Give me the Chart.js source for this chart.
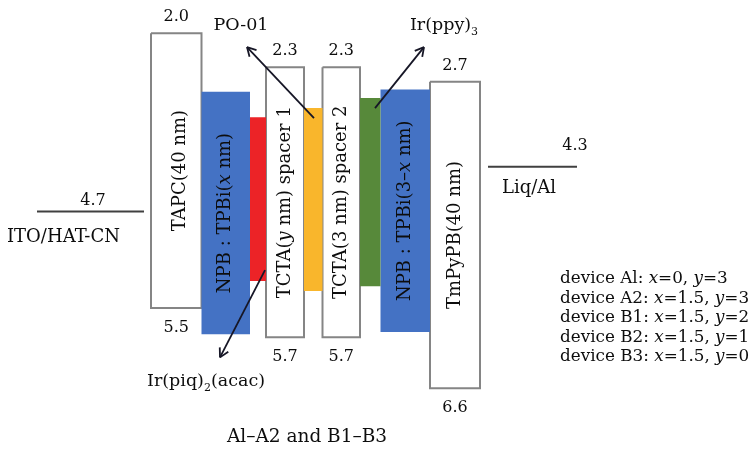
<!DOCTYPE html>
<html>
<head>
<meta charset="utf-8">
<script src="https://cdn.jsdelivr.net/npm/chart.js@4.4.1/dist/chart.umd.min.js"></script>
<style>
  html, body { margin: 0; padding: 0; background: #fff; }
  #wrap { width: 753px; height: 450px; position: relative; }
</style>
</head>
<body>
<div id="wrap"><canvas id="chart"></canvas></div>
<script>
// Layer stack, left to right
const layers = ['TAPC', 'NPB:TPBi(x)', 'Ir(piq)2(acac)', 'TCTA spacer 1', 'PO-01', 'TCTA spacer 2', 'Ir(ppy)3', 'NPB:TPBi(3-x)', 'TmPyPB'];
const layerEdges = [151, 201.5, 250, 266, 304, 322.5, 360, 380.5, 430, 480];
// levels as drawn (eV; the original sketch is not to scale)
const lumo = [2.00, 2.76, 3.09, 2.44, 2.97, 2.44, 2.84, 2.73, 2.63];
const homo = [5.56, 5.90, 5.21, 5.94, 5.34, 5.94, 5.28, 5.87, 6.60];
const lumoText = ['2.0', '', '', '2.3', '', '2.3', '', '', '2.7'];
const homoText = ['5.5', '', '', '5.7', '', '5.7', '', '', '6.6'];
const layerColors = ['#ffffff', '#4472c4', '#ec2327', '#ffffff', '#f9b62c', '#ffffff', '#57893a', '#4472c4', '#ffffff'];

// electrodes
const electrodes = ['ITO/HAT-CN', 'Liq/Al'];
const electrodeSpans = [[37, 144], [488, 577]];
const workFunction = [4.31, 3.73];
const workFunctionText = ['4.7', '4.3'];

// dopant arrows [stack position, level]
const dopants = ['PO-01', 'Ir(ppy)3', 'Ir(piq)2(acac)'];
const arrowTail = [[314, 3.10], [375, 2.97], [265, 5.07]];
const arrowHead = [[247, 2.18], [424, 2.18], [220, 6.20]];

// device table
const devices = ['Al', 'A2', 'B1', 'B2', 'B3'];
const xValues = ['0', '1.5', '1.5', '1.5', '1.5'];
const yValues = ['3', '3', '2', '1', '0'];

const FONT = '"DejaVu Serif", serif';
const INK = '#0d0d0d';

// rich text parts: [text, style] style '' | 'i' italic | 's' subscript
const layerText = [
  [['TAPC(40 nm)', '']],
  [['NPB : TPBi(', ''], ['x', 'i'], [' nm)', '']],
  null,
  [['TCTA(', ''], ['y', 'i'], [' nm) spacer 1', '']],
  null,
  [['TCTA(3 nm) spacer 2', '']],
  null,
  [['NPB : TPBi(3\u2013', ''], ['x', 'i'], [' nm)', '']],
  [['TmPyPB(40 nm)', '']]
];
const layerTextDx = [4, 0, 0, 0, 0, 0, 0, 0, 0];
const dopantText = [
  [['PO-01', '']],
  [['Ir(ppy)', ''], ['3', 's']],
  [['Ir(piq)', ''], ['2', 's'], ['(acac)', '']]
];
const dopantTextOffset = [[-6, -17], [20, -17], [-14, 29]];
const electrodeNumOffset = [[-51, -6], [-2, -17]];
const electrodeNameOffset = [[-30, 31], [14, 26]];

function setFont(ctx, style, size) {
  if (style === 'i') ctx.font = 'italic ' + size + 'px ' + FONT;
  else if (style === 's') ctx.font = Math.round(size * 0.62) + 'px ' + FONT;
  else ctx.font = size + 'px ' + FONT;
}

function drawRich(ctx, parts, x, y, size, align) {
  let total = 0;
  parts.forEach(p => { setFont(ctx, p[1], size); total += ctx.measureText(p[0]).width; });
  let cx = align === 'left' ? x : x - total / 2;
  ctx.textAlign = 'left';
  parts.forEach(p => {
    setFont(ctx, p[1], size);
    ctx.fillText(p[0], cx, p[1] === 's' ? y + size * 0.28 : y);
    cx += ctx.measureText(p[0]).width;
  });
}

// note: lower order is drawn on top
const datasets = [];
layers.forEach((name, i) => {
  const x0 = layerEdges[i], x1 = layerEdges[i + 1];
  const white = layerColors[i] === '#ffffff';
  datasets.push({
    label: name,
    data: [{x: x0, y: lumo[i]}, {x: x1, y: lumo[i]}, {x: x1, y: homo[i]}, {x: x0, y: homo[i]}, {x: x0, y: lumo[i]}],
    showLine: true,
    fill: 'shape',
    backgroundColor: layerColors[i],
    borderColor: white ? '#858585' : 'rgba(0,0,0,0)',
    borderWidth: white ? 2 : 0,
    pointRadius: 0,
    order: white ? 3 : 2
  });
});
electrodes.forEach((name, i) => {
  datasets.push({
    label: name,
    data: electrodeSpans[i].map(x => ({x, y: workFunction[i]})),
    showLine: true,
    borderColor: '#404040',
    borderWidth: 2,
    pointRadius: 0,
    order: 1
  });
});
dopants.forEach((name, i) => {
  datasets.push({
    label: name,
    data: [{x: arrowTail[i][0], y: arrowTail[i][1]}, {x: arrowHead[i][0], y: arrowHead[i][1]}],
    showLine: true,
    borderColor: '#161626',
    borderWidth: 1.8,
    pointRadius: 0,
    order: 0,
    isArrow: true
  });
});

const annotations = {
  id: 'annotations',
  afterDatasetsDraw(chart) {
    const ctx = chart.ctx;
    const xs = chart.scales.x, ys = chart.scales.y;
    ctx.save();
    ctx.fillStyle = INK;
    ctx.textBaseline = 'alphabetic';

    // arrowheads
    chart.data.datasets.forEach((ds, di) => {
      if (!ds.isArrow) return;
      const pts = chart.getDatasetMeta(di).data;
      const a = pts[0], b = pts[1];
      const ang = Math.atan2(b.y - a.y, b.x - a.x);
      ctx.strokeStyle = ds.borderColor;
      ctx.lineWidth = 1.8;
      ctx.beginPath();
      [-0.5, 0.5].forEach(d => {
        ctx.moveTo(b.x, b.y);
        ctx.lineTo(b.x - 10 * Math.cos(ang + d), b.y - 10 * Math.sin(ang + d));
      });
      ctx.stroke();
    });

    // level numbers and rotated layer names
    layers.forEach((name, i) => {
      const cx = xs.getPixelForValue((layerEdges[i] + layerEdges[i + 1]) / 2);
      ctx.font = '16px ' + FONT;
      ctx.textAlign = 'center';
      if (lumoText[i]) ctx.fillText(lumoText[i], cx, ys.getPixelForValue(lumo[i]) - 12);
      if (homoText[i]) ctx.fillText(homoText[i], cx, ys.getPixelForValue(homo[i]) + 24);
      if (layerText[i]) {
        const cy = (ys.getPixelForValue(lumo[i]) + ys.getPixelForValue(homo[i])) / 2;
        ctx.save();
        ctx.translate(cx + layerTextDx[i], cy);
        ctx.rotate(-Math.PI / 2);
        ctx.textBaseline = 'middle';
        drawRich(ctx, layerText[i], 0, 0, 18, 'center');
        ctx.restore();
      }
    });

    // electrodes
    electrodes.forEach((name, i) => {
      const x0 = xs.getPixelForValue(electrodeSpans[i][0]);
      const x1 = xs.getPixelForValue(electrodeSpans[i][1]);
      const y = ys.getPixelForValue(workFunction[i]);
      ctx.font = '16px ' + FONT;
      ctx.textAlign = 'center';
      ctx.fillText(workFunctionText[i], x1 + electrodeNumOffset[i][0], y + electrodeNumOffset[i][1]);
      ctx.textAlign = 'left';
      ctx.font = '18px ' + FONT;
      ctx.fillText(name, x0 + electrodeNameOffset[i][0], y + electrodeNameOffset[i][1]);
    });

    // dopant labels at arrow heads
    dopants.forEach((name, i) => {
      const hx = xs.getPixelForValue(arrowHead[i][0]);
      const hy = ys.getPixelForValue(arrowHead[i][1]);
      drawRich(ctx, dopantText[i], hx + dopantTextOffset[i][0], hy + dopantTextOffset[i][1], 17.5, 'center');
    });

    // device table
    devices.forEach((d, i) => {
      drawRich(ctx, [['device ' + d + ': ', ''], ['x', 'i'], ['=' + xValues[i] + ', ', ''], ['y', 'i'], ['=' + yValues[i], '']],
        560, 283 + i * 19.6, 16.8, 'left');
    });

    // caption
    drawRich(ctx, [['Al\u2013A2 and B1\u2013B3', '']], 307, 442, 18.5, 'center');
    ctx.restore();
  }
};

new Chart(document.getElementById('chart'), {
  type: 'scatter',
  data: { datasets },
  options: {
    responsive: true,
    maintainAspectRatio: false,
    animation: false,
    events: [],
    layout: { padding: 0 },
    plugins: { legend: { display: false }, tooltip: { enabled: false } },
    scales: {
      x: { type: 'linear', min: 0, max: 753, display: false },
      y: { type: 'linear', reverse: true, min: 1.57, max: 7.40, display: false }
    }
  },
  plugins: [annotations]
});
</script>
</body>
</html>
